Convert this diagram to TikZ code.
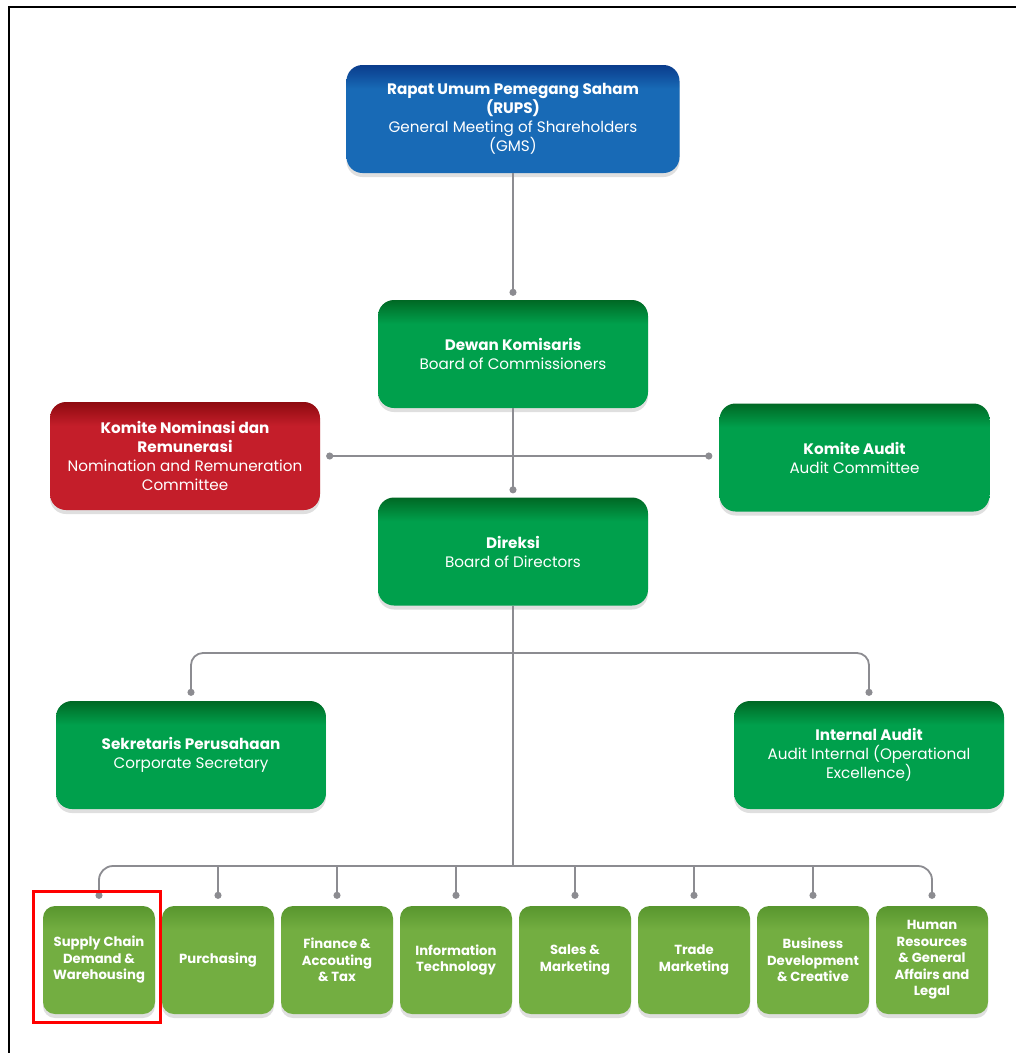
\documentclass[tikz,border=0pt]{standalone}
\usepackage{fontspec}
\setmainfont{Poppins}
\newfontfamily\divfont{Poppins}
\usetikzlibrary{arrows.meta,shadows}

\definecolor{rupsblue}{RGB}{24,106,182}
\definecolor{rupsdark}{RGB}{10,60,140}
\definecolor{bodgreen}{RGB}{0,160,76}
\definecolor{boddark}{RGB}{0,104,36}
\definecolor{nomred}{RGB}{196,30,42}
\definecolor{nomdark}{RGB}{142,10,16}
\definecolor{divgreen}{RGB}{115,174,65}
\definecolor{divdark}{RGB}{88,150,46}
\definecolor{linegray}{RGB}{140,140,145}

\pgfdeclareverticalshading{rupsshade}{100bp}{color(0bp)=(rupsblue); color(64bp)=(rupsblue); color(75bp)=(rupsdark); color(100bp)=(rupsdark)}
\pgfdeclareverticalshading{bodshade}{100bp}{color(0bp)=(bodgreen); color(64bp)=(bodgreen); color(75bp)=(boddark); color(100bp)=(boddark)}
\pgfdeclareverticalshading{nomshade}{100bp}{color(0bp)=(nomred); color(64bp)=(nomred); color(75bp)=(nomdark); color(100bp)=(nomdark)}
\pgfdeclareverticalshading{divshade}{100bp}{color(0bp)=(divgreen); color(64bp)=(divgreen); color(75bp)=(divdark); color(100bp)=(divdark)}

\tikzset{
    orgbox/.style={rounded corners=16pt, minimum width=270pt, minimum height=108pt, inner sep=0pt,
        align=center, text=white, font=\fontsize{15.2}{19}\selectfont, shading=bodshade,
        drop shadow={shadow xshift=0pt, shadow yshift=-4pt, opacity=0.25}},
    divbox/.style={orgbox, rounded corners=12pt, minimum width=112pt, shading=divshade,
        font=\divfont\bfseries\fontsize{13.2}{16.5}\selectfont},
    conn/.style={draw=linegray, line width=1.8pt},
    dot/.style={-{Circle[length=7pt, fill=linegray]}},
    dots/.style={{Circle[length=7pt, fill=linegray]}-{Circle[length=7pt, fill=linegray]}}
}

\begin{document}
\begin{tikzpicture}[x=1pt, y=-1pt]
    \useasboundingbox[fill=white] (0,0) rectangle (1016,1053);
    \draw[black, line width=1.5pt] (9,1053) -- (9,7) -- (1016,7);

    \node[orgbox, shading=rupsshade, minimum width=333pt] (rups) at (513,119)
        {\textbf{Rapat Umum Pemegang Saham}\\\textbf{(RUPS)}\\General Meeting of Shareholders\\(GMS)};
    \node[orgbox] (dewan) at (513,354) {\textbf{Dewan Komisaris}\\Board of Commissioners};
    \node[orgbox, shading=nomshade] (nominasi) at (185,456)
        {\textbf{Komite Nominasi dan}\\\textbf{Remunerasi}\\Nomination and Remuneration\\Committee};
    \node[orgbox] (komaudit) at (854.5,457.5) {\textbf{Komite Audit}\\Audit Committee};
    \node[orgbox] (direksi) at (513,551.5) {\textbf{Direksi}\\Board of Directors};
    \node[orgbox] (sekper) at (191,755) {\textbf{Sekretaris Perusahaan}\\Corporate Secretary};
    \node[orgbox] (intaudit) at (869,755)
        {\textbf{Internal Audit}\\Audit Internal (Operational\\Excellence)};

    \foreach \i/\txt in {1/{Supply Chain\\Demand \&\\Warehousing}, 2/{Purchasing},
        3/{Finance \&\\Accouting\\\& Tax}, 4/{Information\\Technology}, 5/{Sales \&\\Marketing},
        6/{Trade\\Marketing}, 7/{Business\\Development\\\& Creative},
        8/{Human\\Resources\\\& General\\Affairs and\\Legal}}
    {
        \node[divbox] (div\i) at (99+119*\i-119,960) {\txt};
    }

    \coordinate (bus2) at (513,653);
    \coordinate (bus3) at (513,866);

    \draw[conn, dot] (rups.south) -- ([yshift=4pt]dewan.north);
    \draw[conn, dot] (dewan.south) -- ([yshift=4pt]direksi.north);
    \draw[conn, dots] ([xshift=6pt]nominasi.east) -- ([xshift=-7pt]komaudit.west |- nominasi.east);
    \draw[conn] (direksi.south) -- (bus3);
    \draw[conn, dots, rounded corners=12pt] ([yshift=5pt]sekper.north) |- (bus2) -| ([yshift=5pt]intaudit.north);
    \draw[conn, dots, rounded corners=14pt] ([yshift=7pt]div1.north) |- (bus3) -| ([yshift=7pt]div8.north);
    \foreach \i in {2,...,7}
    {
        \draw[conn, dot] (div\i.north |- bus3) -- ([yshift=7pt]div\i.north);
    }

    \draw[red, line width=3pt] ([shift={(-9pt,14pt)}]div1.north west) rectangle ([shift={(5pt,-8pt)}]div1.south east);
\end{tikzpicture}
\end{document}
